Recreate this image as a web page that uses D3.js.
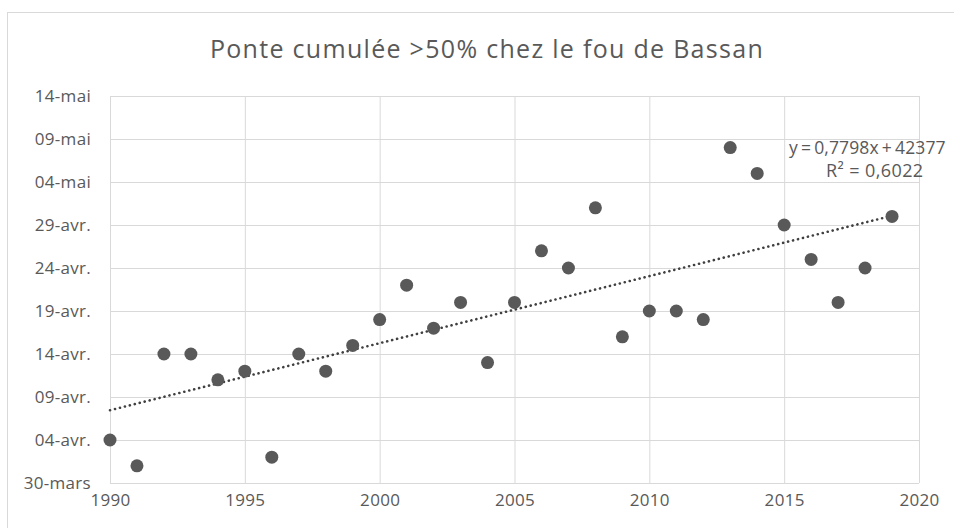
<!DOCTYPE html>
<html>
<head>
<meta charset="utf-8">
<script src="https://cdn.jsdelivr.net/npm/d3@7"></script>
<style>
  html, body { margin: 0; padding: 0; background: #fff; }
  svg { display: block; }
</style>
</head>
<body>
<svg id="chart"></svg>
<script>
// years and date of >50% cumulated laying (day-month)
var years = [1990, 1991, 1992, 1993, 1994, 1995, 1996, 1997, 1998, 1999,
             2000, 2001, 2002, 2003, 2004, 2005, 2006, 2007, 2008, 2009,
             2010, 2011, 2012, 2013, 2014, 2015, 2016, 2017, 2018, 2019];
var layDates = ["04-04", "01-04", "14-04", "14-04", "11-04", "12-04", "02-04", "14-04", "12-04", "15-04",
                "18-04", "22-04", "17-04", "20-04", "13-04", "20-04", "26-04", "24-04", "01-05", "16-04",
                "19-04", "19-04", "18-04", "08-05", "05-05", "29-04", "25-04", "20-04", "24-04", "30-04"];
var yTicks = ["30-03", "04-04", "09-04", "14-04", "19-04", "24-04", "29-04", "04-05", "09-05", "14-05"];
var xTicks = [1990, 1995, 2000, 2005, 2010, 2015, 2020];
var titleText = "Ponte cumulée >50% chez le fou de Bassan";
var eqText = "y = 0,7798x + 42377";
var r2Text = "R² = 0,6022";

var W = 954, H = 528;
var padding = {left: 110, right: 35, top: 96, bottom: 45};
var chartArea = {width: W - padding.left - padding.right, height: H - padding.top - padding.bottom};
var font = "'Open Sans', sans-serif";

var fr = d3.timeFormatLocale({
  dateTime: "%A %e %B %Y à %X", date: "%d/%m/%Y", time: "%H:%M:%S",
  periods: ["AM", "PM"],
  days: ["dimanche", "lundi", "mardi", "mercredi", "jeudi", "vendredi", "samedi"],
  shortDays: ["dim.", "lun.", "mar.", "mer.", "jeu.", "ven.", "sam."],
  months: ["janvier", "février", "mars", "avril", "mai", "juin", "juillet", "août", "septembre", "octobre", "novembre", "décembre"],
  shortMonths: ["janv.", "févr.", "mars", "avr.", "mai", "juin", "juil.", "août", "sept.", "oct.", "nov.", "déc."]
});
var parseDM = d3.timeParse("%d-%m-%Y");
function toDate(s) { return parseDM(s + "-2020"); }

var data = years.map(function(y, i) { return {year: y, date: toDate(layDates[i])}; });
var yTickDates = yTicks.map(toDate);

var svg = d3.select("#chart").attr("width", W).attr("height", H)
  .style("font-family", font);

// chart frame
svg.append("rect").attr("x", 7.5).attr("y", 12.5).attr("width", W).attr("height", H)
  .attr("fill", "#fff").attr("stroke", "#d9d9d9");

svg.append("text").attr("x", 487).attr("y", 58).attr("text-anchor", "middle")
  .attr("fill", "#595959").style("font-size", "25px").style("letter-spacing", "1.3px")
  .text(titleText);

var xScale = d3.scaleLinear().domain([1990, 2020]).range([0, chartArea.width]);
var yScale = d3.scaleTime().domain([yTickDates[0], yTickDates[yTickDates.length - 1]]).range([chartArea.height, 0]);

var g = svg.append("g").attr("transform", "translate(" + padding.left + "," + padding.top + ")");

// grid
g.append("g").attr("class", "grid")
  .call(d3.axisLeft(yScale).tickValues(yTickDates).tickSize(-chartArea.width).tickFormat(""))
  .call(function(s) { s.select(".domain").remove(); s.selectAll("line").attr("stroke", "#d9d9d9"); });
g.append("g").attr("class", "grid")
  .attr("transform", "translate(0," + chartArea.height + ")")
  .call(d3.axisBottom(xScale).tickValues(xTicks).tickSize(-chartArea.height).tickFormat(""))
  .call(function(s) { s.select(".domain").remove(); s.selectAll("line").attr("stroke", "#d9d9d9"); });

// axes labels
var yAxis = g.append("g")
  .call(d3.axisLeft(yScale).tickValues(yTickDates).tickSize(0).tickPadding(19).tickFormat(fr.format("%d-%b")));
var xAxis = g.append("g").attr("transform", "translate(0," + chartArea.height + ")")
  .call(d3.axisBottom(xScale).tickValues(xTicks).tickSize(0).tickPadding(11).tickFormat(d3.format("d")));
[xAxis, yAxis].forEach(function(a) {
  a.select(".domain").remove();
  a.selectAll("text").attr("fill", "#595959").style("font-size", "17px")
    .style("letter-spacing", "0.3px").style("font-family", font);
});

// linear trend (least squares on the points)
var tVals = data.map(function(d) { return +d.date; });
var mx = d3.mean(years), my = d3.mean(tVals);
var slope = d3.sum(data, function(d) { return (d.year - mx) * (+d.date - my); }) /
            d3.sum(years, function(y) { return (y - mx) * (y - mx); });
var trend = [years[0], years[years.length - 1]].map(function(y) {
  return {year: y, date: new Date(my + slope * (y - mx))};
});
g.append("path").datum(trend)
  .attr("fill", "none").attr("stroke", "#404040").attr("stroke-width", 2.6)
  .attr("stroke-dasharray", "0.1 5").attr("stroke-linecap", "round")
  .attr("d", d3.line().x(function(d) { return xScale(d.year); }).y(function(d) { return yScale(d.date); }));

// points
g.selectAll("circle.pt").data(data).enter().append("circle").attr("class", "pt")
  .attr("cx", function(d) { return xScale(d.year); })
  .attr("cy", function(d) { return yScale(d.date); })
  .attr("r", 6.5).attr("fill", "#595959");

// equation label
svg.append("text").attr("x", 789).attr("y", 154).attr("fill", "#595959")
  .style("font-size", "17.5px").style("letter-spacing", "0.1px").style("word-spacing", "-1.5px").text(eqText);
svg.append("text").attr("x", 826).attr("y", 177).attr("fill", "#595959")
  .style("font-size", "18px").style("letter-spacing", "0.4px").text(r2Text);
</script>
</body>
</html>
